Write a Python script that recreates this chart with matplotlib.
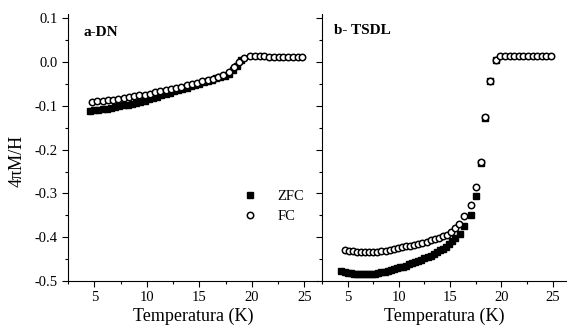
import matplotlib
matplotlib.use('Agg')
import matplotlib.pyplot as plt
from matplotlib.ticker import MultipleLocator

plt.rcParams['font.family'] = ['Liberation Serif', 'DejaVu Serif']

# panel a - DN
a_zfc_t = [4.6, 5.0, 5.4, 5.8, 6.2, 6.6, 7.0, 7.4, 7.8, 8.2, 8.6, 9.0, 9.4, 9.8,
           10.2, 10.6, 11.0, 11.4, 11.8, 12.2, 12.6, 13.0, 13.4, 13.8, 14.2, 14.6,
           15.0, 15.4, 15.8, 16.2, 16.6, 17.0, 17.4, 17.8, 18.2, 18.6, 19.0]
a_zfc = [-0.111, -0.110, -0.109, -0.108, -0.106, -0.105, -0.103, -0.101, -0.099,
         -0.097, -0.095, -0.093, -0.090, -0.088, -0.085, -0.082, -0.079, -0.076,
         -0.073, -0.070, -0.067, -0.064, -0.061, -0.058, -0.055, -0.052, -0.049,
         -0.046, -0.043, -0.040, -0.037, -0.034, -0.031, -0.026, -0.018, -0.008, 0.004]
a_fc_t = [4.8, 5.3, 5.8, 6.3, 6.8, 7.3, 7.8, 8.3, 8.8, 9.3, 9.8, 10.3, 10.8, 11.3,
          11.8, 12.3, 12.8, 13.3, 13.8, 14.3, 14.8, 15.3, 15.8, 16.3, 16.8, 17.3,
          17.8, 18.3, 18.8, 19.3, 19.8, 20.3, 20.75, 21.2, 21.65, 22.1, 22.55, 23.0,
          23.45, 23.9, 24.35, 24.8]
a_fc = [-0.090, -0.089, -0.088, -0.087, -0.086, -0.084, -0.082, -0.080, -0.078,
        -0.076, -0.074, -0.072, -0.069, -0.067, -0.064, -0.062, -0.059, -0.056,
        -0.053, -0.050, -0.047, -0.044, -0.041, -0.038, -0.034, -0.029, -0.022,
        -0.012, 0.000, 0.010, 0.013, 0.013, 0.013, 0.013, 0.012, 0.012, 0.012,
        0.012, 0.012, 0.011, 0.011, 0.011]

# panel b - TSDL
b_zfc_t = [4.4, 4.7, 5.0, 5.3, 5.6, 5.9, 6.2, 6.5, 6.8, 7.1, 7.4, 7.7, 8.0, 8.3,
           8.6, 8.9, 9.2, 9.5, 9.8, 10.1, 10.4, 10.7, 11.0, 11.3, 11.6, 11.9, 12.2,
           12.5, 12.8, 13.1, 13.4, 13.7, 14.0, 14.3, 14.6, 14.9, 15.2, 15.5, 16.0,
           16.4, 17.0, 17.5, 18.0, 18.45, 18.9, 19.45]
b_zfc = [-0.477, -0.479, -0.481, -0.482, -0.483, -0.484, -0.485, -0.485, -0.485,
         -0.484, -0.484, -0.483, -0.482, -0.480, -0.479, -0.477, -0.475, -0.473,
         -0.471, -0.469, -0.467, -0.465, -0.462, -0.460, -0.457, -0.454, -0.451,
         -0.448, -0.445, -0.442, -0.438, -0.434, -0.430, -0.426, -0.422, -0.416,
         -0.409, -0.402, -0.392, -0.374, -0.349, -0.305, -0.230, -0.127, -0.043, 0.006]
b_fc_t = [4.7, 5.1, 5.5, 5.9, 6.3, 6.7, 7.1, 7.5, 7.9, 8.3, 8.7, 9.1, 9.5, 9.9,
          10.3, 10.7, 11.1, 11.5, 11.9, 12.3, 12.7, 13.1, 13.5, 13.9, 14.3, 14.7,
          15.1, 15.5, 15.9, 16.4, 17.0, 17.5, 18.0, 18.45, 18.9, 19.45, 19.9, 20.35,
          20.8, 21.25, 21.7, 22.15, 22.6, 23.05, 23.5, 23.95, 24.4, 24.85]
b_fc = [-0.429, -0.431, -0.432, -0.433, -0.434, -0.434, -0.434, -0.434, -0.433,
        -0.432, -0.431, -0.429, -0.427, -0.425, -0.423, -0.421, -0.419, -0.417,
        -0.415, -0.413, -0.410, -0.407, -0.404, -0.401, -0.398, -0.394, -0.388,
        -0.380, -0.370, -0.351, -0.326, -0.286, -0.228, -0.125, -0.042, 0.006,
        0.014, 0.014, 0.014, 0.014, 0.014, 0.014, 0.013, 0.013, 0.013, 0.013,
        0.013, 0.013]

fig = plt.figure(figsize=(5.7, 3.3), dpi=100)
ax1 = fig.add_axes([0.1193, 0.1485, 0.4386, 0.809])
ax2 = fig.add_axes([0.5649, 0.1485, 0.428, 0.809])

for ax, zt, zv, ft, fv in [(ax1, a_zfc_t, a_zfc, a_fc_t, a_fc),
                           (ax2, b_zfc_t, b_zfc, b_fc_t, b_fc)]:
    ax.plot(zt, zv, 's', color='black', ms=4.8, label='ZFC')
    ax.plot(ft, fv, 'o', mfc='white', mec='black', mew=1.1, ms=4.6, label='FC')
    ax.set_xlim(2.5, 26.3)
    ax.set_ylim(-0.5, 0.11)
    for s in ['top', 'right']:
        ax.spines[s].set_visible(False)
    ax.xaxis.set_major_locator(MultipleLocator(5))
    ax.xaxis.set_minor_locator(MultipleLocator(2.5))
    ax.yaxis.set_major_locator(MultipleLocator(0.1))
    ax.yaxis.set_minor_locator(MultipleLocator(0.05))
    ax.tick_params(which='major', length=4, width=0.8, labelsize=10.5)
    ax.tick_params(which='minor', length=2, width=0.8)
    ax.set_xlabel('Temperatura (K)', fontsize=13, labelpad=2)

ax1.set_yticklabels([f'{v:.1f}' for v in ax1.get_yticks()])
ax2.tick_params(axis='y', labelleft=False)
ax1.set_ylabel('4πM/H', fontsize=13)
ax1.yaxis.set_label_coords(-0.17, 0.45)

ax1.text(4.0, 0.068, 'a-DN', fontsize=11, fontweight='bold', va='center')
ax2.text(3.7, 0.073, 'b- TSDL', fontsize=11, fontweight='bold', va='center')

ax1.legend(loc='upper left', bbox_to_anchor=(0.64, 0.37), frameon=False,
           fontsize=10.5, handletextpad=0.9, labelspacing=0.5, borderpad=0)

fig.savefig('out.png', dpi=100)
